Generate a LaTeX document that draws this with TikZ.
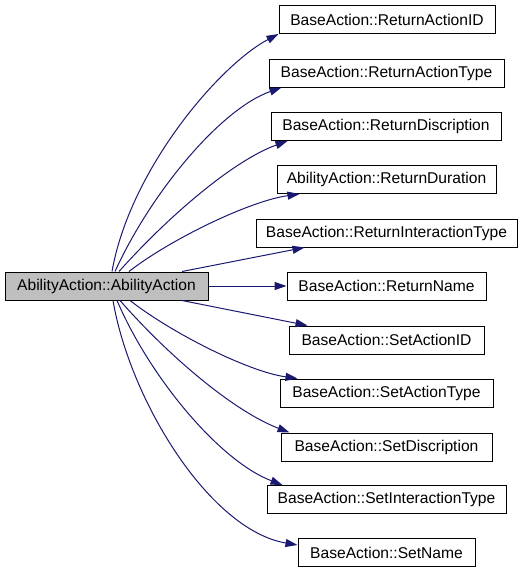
\documentclass[tikz,border=0pt]{standalone}
\usepackage{fontspec}
\setmainfont{Liberation Sans}
\usetikzlibrary{arrows.meta}
\definecolor{edgeblue}{RGB}{25,25,112}
\definecolor{mainfill}{RGB}{191,191,191}
\begin{document}
\begin{tikzpicture}[x=1pt,y=-1pt,
  fn/.style={draw=black, line width=1pt, minimum height=28pt, inner sep=0pt,
    font=\fontsize{15.6}{18}\selectfont, anchor=center},
  call/.style={draw=edgeblue, line width=1pt, -{Triangle[length=12pt,width=8pt]}}]
\useasboundingbox (0,0) rectangle (523,573);
\node[fn, fill=mainfill, minimum width=203pt] (main) at (106.5,286) {AbilityAction::AbilityAction};
\node[fn, minimum width=216pt] (n1) at (387,19.5) {BaseAction::ReturnActionID};
\node[fn, minimum width=235pt] (n2) at (386.5,73) {BaseAction::ReturnActionType};
\node[fn, minimum width=230pt] (n3) at (386,126.5) {BaseAction::ReturnDiscription};
\node[fn, minimum width=219pt] (n4) at (386.5,179.5) {AbilityAction::ReturnDuration};
\node[fn, minimum width=261pt] (n5) at (386.5,233) {BaseAction::ReturnInteractionType};
\node[fn, minimum width=199pt] (n6) at (386.5,286) {BaseAction::ReturnName};
\node[fn, minimum width=195pt] (n7) at (386.5,340) {BaseAction::SetActionID};
\node[fn, minimum width=213pt] (n8) at (386.5,393) {BaseAction::SetActionType};
\node[fn, minimum width=211pt] (n9) at (386.5,447) {BaseAction::SetDiscription};
\node[fn, minimum width=239pt] (n10) at (386.5,499.5) {BaseAction::SetInteractionType};
\node[fn, minimum width=177pt] (n11) at (386.5,552.5) {BaseAction::SetName};

\draw[call] ([xshift=5.5pt]main.north) .. controls +(18,-102) and +(-59,31) .. (n1.south west);
\draw[call] ([xshift=8.5pt]main.north) .. controls +(35,-77) and +(-62,22) .. ([xshift=13pt]n2.south west);
\draw[call] ([xshift=12.5pt]main.north) .. controls +(51,-57) and +(-53,19) .. ([xshift=17pt]n3.south west);
\draw[call] ([xshift=22.5pt]main.north) .. controls +(41,-32) and +(-50,7) .. ([xshift=23pt]n4.south west);
\draw[call] ([xshift=75.5pt]main.north) -- ([xshift=49pt]n5.south west);
\draw[call] (main.east) -- (n6.west);
\draw[call] ([xshift=75.5pt]main.south) -- ([xshift=19pt]n7.north west);
\draw[call] ([xshift=23.5pt]main.south) .. controls +(41,32) and +(-50,-7) .. ([xshift=18pt]n8.north west);
\draw[call] ([xshift=13.5pt]main.south) .. controls +(50,57) and +(-55,-21) .. ([xshift=9pt]n9.north west);
\draw[call] ([xshift=10.5pt]main.south) .. controls +(33,77) and +(-63,-24) .. ([xshift=16pt]n10.north west);
\draw[call] ([xshift=6.5pt]main.south) .. controls +(17,100) and +(-88,-15) .. ([yshift=7.5pt]n11.west);
\end{tikzpicture}
\end{document}
